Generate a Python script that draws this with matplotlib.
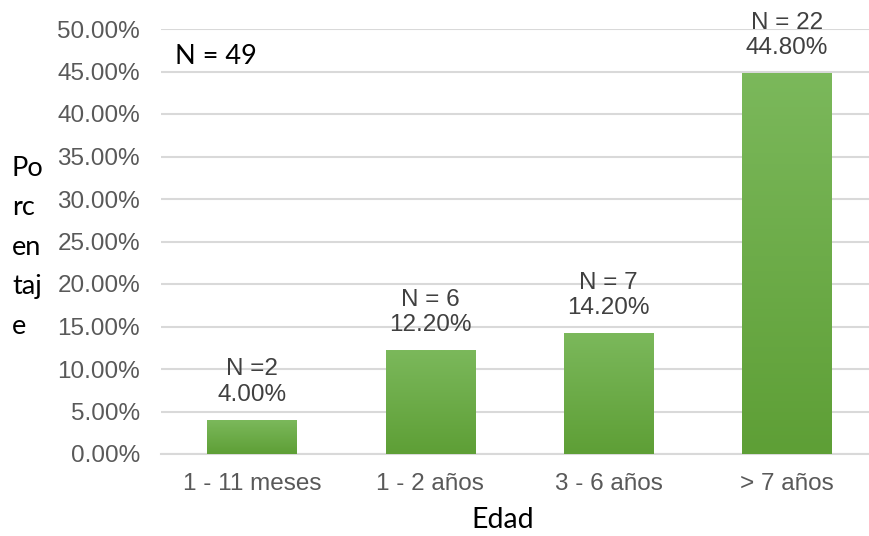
import matplotlib

matplotlib.use("Agg")
import matplotlib.pyplot as plt
import numpy as np

categories = ["1 - 11 meses", "1 - 2 años", "3 - 6 años", "> 7 años"]
percentages = [4.0, 12.2, 14.2, 44.8]
counts_text = ["N =2", "N = 6", "N = 7", "N = 22"]
total_text = "N = 49"
yticks = [0, 5, 10, 15, 20, 25, 30, 35, 40, 45, 50]

gray = "#595959"
grid_color = "#d9d9d9"

fig = plt.figure(figsize=(8.69, 5.36), dpi=100)
ax = fig.add_axes([161 / 869, 1 - 454 / 536, 1 - 161 / 869, (454 - 29) / 536])

x = np.arange(len(categories))
bars = ax.bar(x, percentages, width=0.5, color="#6aab45", zorder=3)

# soft vertical gradient on the bars
grad = np.linspace(0, 1, 100).reshape(-1, 1)
cmap = matplotlib.colors.LinearSegmentedColormap.from_list("g", ["#5e9f36", "#7bb85b"])
for b in bars:
    x0, y0 = b.get_x(), b.get_y()
    im = ax.imshow(grad, cmap=cmap, aspect="auto", origin="lower",
                   extent=(x0, x0 + b.get_width(), y0, y0 + b.get_height()), zorder=3)
    im.set_clip_path(b)

for xi, p, n in zip(x, percentages, counts_text):
    ax.text(xi, p + 1.7, f"{n}\n{p:.2f}%", ha="center", va="bottom", fontsize=17.5,
            color="#404040", family="Liberation Sans", linespacing=1.18)

ax.set_xlim(-0.51, 3.46)
ax.set_ylim(0, 50)
ax.set_yticks(yticks)
ax.set_yticklabels([f"{v:.2f}%" for v in yticks])
ax.set_xticks(x)
ax.set_xticklabels(categories)
ax.tick_params(length=0, labelsize=17.5, labelcolor=gray)
ax.tick_params(axis="x", pad=14)
ax.tick_params(axis="y", pad=15)
for lab in ax.get_xticklabels() + ax.get_yticklabels():
    lab.set_family("Liberation Sans")

ax.grid(axis="y", color=grid_color, linewidth=1.5, zorder=0)
for side in ["top", "right", "left"]:
    ax.spines[side].set_visible(False)
ax.spines["bottom"].set_color(grid_color)
ax.spines["bottom"].set_linewidth(1.5)

fig.text(175 / 869, 1 - 57 / 536, total_text, fontsize=19.5, family="Lato", va="center", ha="left")
fig.text(12 / 869, 1 - 156 / 536, "Po\nrc\nen\ntaj\ne", fontsize=19.5, family="Lato",
         va="top", ha="left", linespacing=1.72)
fig.text(503 / 869, 1 - 520 / 536, "Edad", fontsize=20.5, family="Lato", va="center", ha="center")

fig.savefig("out.png", dpi=100)
